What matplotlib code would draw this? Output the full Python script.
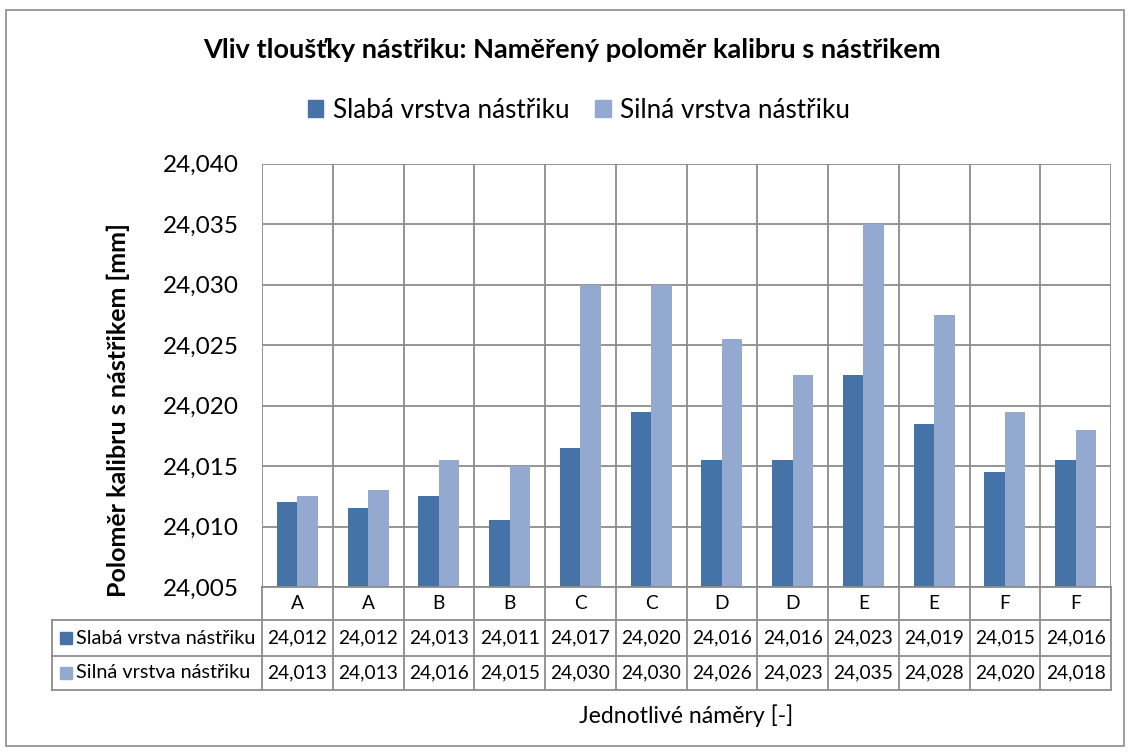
import numpy as np
import matplotlib
matplotlib.use("Agg")
import matplotlib.pyplot as plt
from matplotlib.transforms import blended_transform_factory
from matplotlib.lines import Line2D
from matplotlib.patches import Rectangle, Patch

plt.rcParams['font.family'] = ['Lato', 'DejaVu Sans']

# data
categories = ['A', 'A', 'B', 'B', 'C', 'C', 'D', 'D', 'E', 'E', 'F', 'F']
slaba = [24.0120, 24.0115, 24.0125, 24.0105, 24.0165, 24.0195,
         24.0155, 24.0155, 24.0225, 24.0185, 24.0145, 24.0155]
silna = [24.0125, 24.0130, 24.0155, 24.0150, 24.0300, 24.0300,
         24.0255, 24.0225, 24.0350, 24.0275, 24.0195, 24.0180]
# values as printed in the data table
slaba_txt = ['24,012', '24,012', '24,013', '24,011', '24,017', '24,020',
             '24,016', '24,016', '24,023', '24,019', '24,015', '24,016']
silna_txt = ['24,013', '24,013', '24,016', '24,015', '24,030', '24,030',
             '24,026', '24,023', '24,035', '24,028', '24,020', '24,018']
names = ['Slabá vrstva nástřiku', 'Silná vrstva nástřiku']
yticks = np.arange(24.005, 24.0401, 0.005)

C1, C2 = '#4572A7', '#93A9CF'
GRID = '#8c8c8c'
W, H = 1130, 753

def fx(x):
    return x / W

def fy(y):
    return 1 - y / H

fig = plt.figure(figsize=(W / 100, H / 100), dpi=100)
# outer chart border
fig.add_artist(Rectangle((fx(6), fy(746)), fx(1124) - fx(6), fy(10) - fy(746),
                         transform=fig.transFigure, fill=False, ec='#8c8c8c', lw=1.2))

left, right, top, bottom = 262, 1111, 163.7, 587
ax = fig.add_axes([fx(left), fy(bottom), fx(right) - fx(left), fy(top) - fy(bottom)])

x = np.arange(len(categories))
bw = 0.29
ax.bar(x - bw / 2, slaba, bw, color=C1, label=names[0], zorder=3)
ax.bar(x + bw / 2, silna, bw, color=C2, label=names[1], zorder=3)

ax.set_xlim(-0.5, len(categories) - 0.5)
ax.set_ylim(24.005, 24.040)
ax.set_yticks(yticks)
ax.set_yticklabels([f'{v:.3f}'.replace('.', ',') for v in yticks], fontsize=17.5)
ax.tick_params(axis='y', length=0, pad=17)
ax.set_xticks([])
for yv in yticks:
    ax.axhline(yv, color=GRID, lw=1.3, zorder=1)
for xv in np.arange(-0.5, len(categories), 1):
    ax.axvline(xv, color=GRID, lw=1.3, zorder=1)
for s in ax.spines.values():
    s.set_visible(False)

fig.text(fx(118), fy(410), 'Poloměr kalibru s nástřikem [mm]', rotation=90,
         ha='center', va='center', fontsize=18, fontweight='bold')

# data table under the plot
bt = blended_transform_factory(ax.transData, fig.transFigure)
rows = [587, 620, 656, 690]
for r in rows:
    x0 = left if r == 587 else 52
    fig.add_artist(Line2D([fx(x0), fx(right)], [fy(r), fy(r)], transform=fig.transFigure,
                          color=GRID, lw=1.3))
for xv in np.arange(-0.5, len(categories), 1):
    fig.add_artist(Line2D([xv, xv], [fy(587), fy(690)], transform=bt, color=GRID, lw=1.3))
fig.add_artist(Line2D([fx(52), fx(52)], [fy(620), fy(690)], transform=fig.transFigure,
                      color=GRID, lw=1.3))

for i, c in enumerate(categories):
    fig.text(i, fy(603.5), c, transform=bt, ha='center', va='center', fontsize=13.8)
    fig.text(i, fy(638), slaba_txt[i], transform=bt, ha='center', va='center', fontsize=13.8)
    fig.text(i, fy(673), silna_txt[i], transform=bt, ha='center', va='center', fontsize=13.8)

for ry, name, col in [(638, names[0], C1), (673, names[1], C2)]:
    fig.add_artist(Rectangle((fx(60), fy(ry + 6)), fx(12), 12 / H, transform=fig.transFigure,
                             color=col))
    fig.text(fx(76), fy(ry), name, ha='left', va='center', fontsize=14.3)

fig.text(fx(686), fy(716), 'Jednotlivé náměry [-]', ha='center', va='center', fontsize=16.6)
fig.text(fx(572), fy(50), 'Vliv tloušťky nástřiku: Naměřený poloměr kalibru s nástřikem',
         ha='center', va='center', fontsize=19.5, fontweight='bold')

handles = [Patch(color=C1, label=names[0]), Patch(color=C2, label=names[1])]
fig.legend(handles=handles, loc='center', bbox_to_anchor=(fx(579), fy(110)), ncol=2,
           frameon=False, fontsize=18.8, handlelength=0.6, handleheight=0.6,
           handletextpad=0.35, columnspacing=1.0)

fig.savefig('out.png', dpi=100)
